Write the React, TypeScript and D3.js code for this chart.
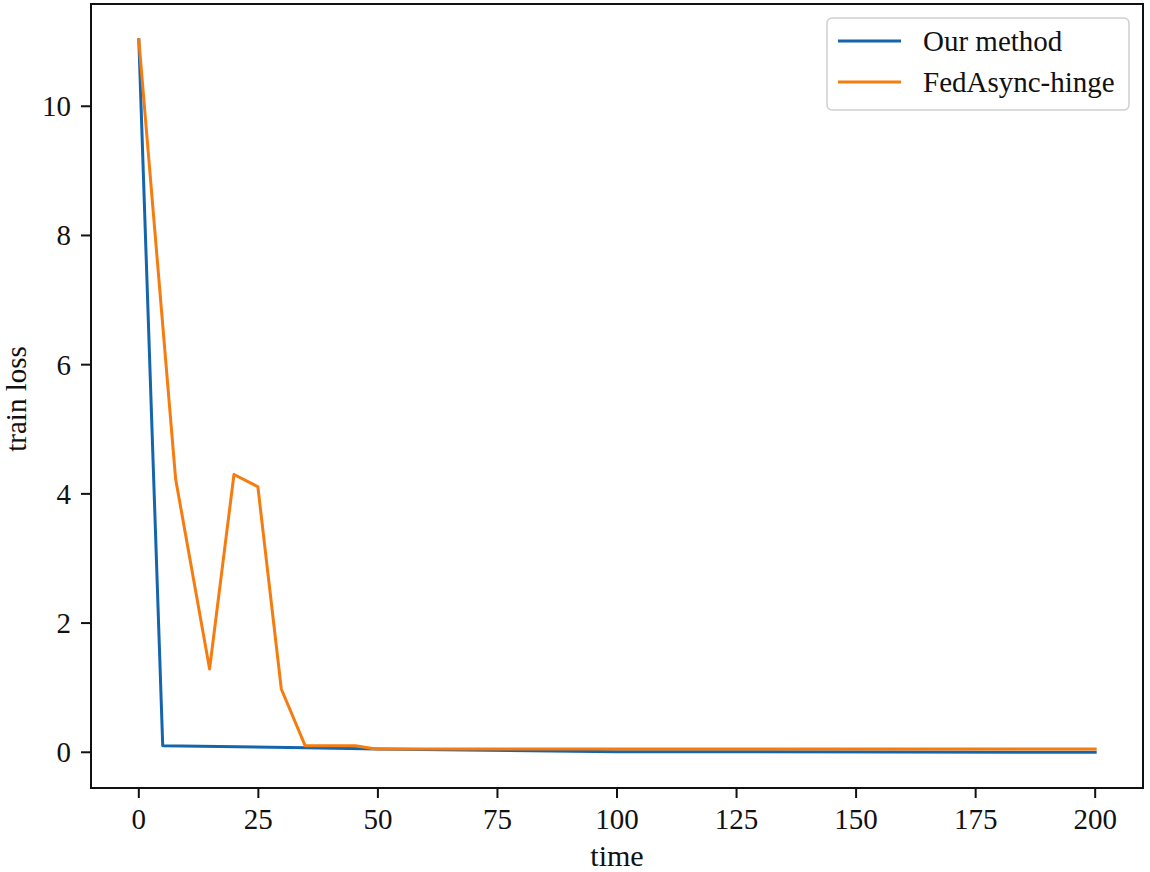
import React from "react";
import * as d3 from "d3";

const ourX = [0, 5, 35, 50, 100, 200];
const ourY = [11.03, 0.1, 0.07, 0.05, 0.01, 0.0];
const fedX = [0, 7.7, 14.8, 19.9, 24.9, 29.8, 34.8, 45.3, 49.5, 100, 200];
const fedY = [11.03, 4.23, 1.29, 4.3, 4.11, 0.98, 0.1, 0.1, 0.05, 0.05, 0.05];
const xTicks = [0, 25, 50, 75, 100, 125, 150, 175, 200];
const yTicks = [0, 2, 4, 6, 8, 10];
const seriesNames = ["Our method", "FedAsync-hinge"];
const colors = ["#1565ad", "#f57c10"];

const W = 1150, H = 872;
const L = 91, R = 1143, T = 4, B = 788;
const FONT = "'Liberation Serif', 'Times New Roman', serif";

export default function App() {
  const x = d3.scaleLinear().domain([-10, 210]).range([L, R]);
  const y = d3.scaleLinear().domain([-0.553, 11.583]).range([B, T]);
  const line = d3.line<[number, number]>().x(d => x(d[0])).y(d => y(d[1]));
  const series = [
    ourX.map((v, i) => [v, ourY[i]] as [number, number]),
    fedX.map((v, i) => [v, fedY[i]] as [number, number]),
  ];
  return (
    <svg width={W} height={H} style={{ position: "absolute", left: 0, top: 0, background: "#fff" }} fontFamily={FONT}>
      <rect x={0} y={0} width={W} height={H} fill="#fff" />
      {series.map((s, i) => (
        <path key={i} d={line(s) || ""} fill="none" stroke={colors[i]} strokeWidth={3} strokeLinejoin="round" strokeLinecap="square" />
      ))}
      <rect x={L} y={T} width={R - L} height={B - T} fill="none" stroke="#111" strokeWidth={2} />
      {xTicks.map(t => (
        <g key={t}>
          <line x1={x(t)} x2={x(t)} y1={B} y2={B + 10} stroke="#111" strokeWidth={2} />
          <text x={x(t)} y={829} textAnchor="middle" fontSize={29} fill="#111">{t}</text>
        </g>
      ))}
      {yTicks.map(t => (
        <g key={t}>
          <line x1={L - 10} x2={L} y1={y(t)} y2={y(t)} stroke="#111" strokeWidth={2} />
          <text x={71} y={y(t) + 10} textAnchor="end" fontSize={29} fill="#111">{t}</text>
        </g>
      ))}
      <text x={(L + R) / 2} y={866} textAnchor="middle" fontSize={30} fill="#111">time</text>
      <text transform={`translate(26, ${(T + B) / 2 + 3}) rotate(-90)`} textAnchor="middle" fontSize={29} fill="#111">train loss</text>
      <rect x={827} y={18} width={302} height={92} rx={5} fill="#fff" fillOpacity={0.8} stroke="#d0d0d0" strokeWidth={1.5} />
      {seriesNames.map((n, i) => (
        <g key={n}>
          <line x1={838} x2={901} y1={41 + i * 41} y2={41 + i * 41} stroke={colors[i]} strokeWidth={3} />
          <text x={923} y={51 + i * 41} fontSize={29} fill="#111">{n}</text>
        </g>
      ))}
    </svg>
  );
}
